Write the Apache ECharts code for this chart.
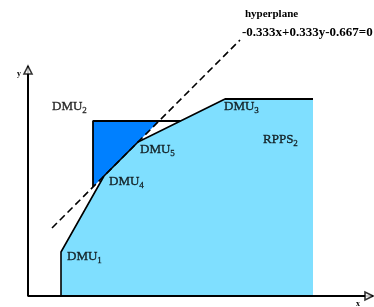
<!DOCTYPE html>
<html><head><meta charset="utf-8">
<script src="https://cdn.jsdelivr.net/npm/echarts@6/dist/echarts.min.js"></script>
<style>html,body{margin:0;padding:0;background:#fff}#c{width:374px;height:307px}</style>
</head><body><div id="c"></div>
<script>
// Data (arbitrary units)
var frontierX = [3.3, 3.3, 7.6, 11.0, 19.7, 28.5, 28.5];
var frontierY = [0, 4.4, 12.0, 15.4, 19.7, 19.7, 0];
var dmuNames = ['DMU', 'DMU', 'DMU', 'DMU', 'DMU'];
var dmuSubs = ['1', '2', '3', '4', '5'];
var dmuX = [3.3, 6.5, 19.7, 7.6, 11.0];
var dmuY = [4.4, 17.5, 19.7, 12.0, 15.4];
var boxX = [6.5, 6.5, 15.25];
var boxY = [10.9, 17.5, 17.5];
var darkX = [6.5, 13.1, 6.5];
var darkY = [17.5, 17.5, 10.9];
var hyperX = [2.4, 21.2];
var hyperY = [6.8, 25.6];
var axisPtsX = [0, 0, 34.5];
var axisPtsY = [23.0, 0, 0];
var regionLabel = ['RPPS', '2'];
var regionPos = [23.5, 15.6];
var hyperTitle = 'hyperplane';
var hyperEq = '-0.333x+0.333y-0.667=0';

function pairs(xs, ys) { return xs.map(function (x, i) { return [x, ys[i]]; }); }
function polygon(xs, ys, color) {
  return function (params, api) {
    var pts = xs.map(function (x, i) { return api.coord([x, ys[i]]); });
    return { type: 'polygon', shape: { points: pts }, style: { fill: color } };
  };
}
var serif = '"Liberation Serif", "DejaVu Serif", serif';
var rich = {
  b: { fontFamily: serif, fontSize: 13, color: '#000', textBorderColor: '#000', textBorderWidth: 0.35 },
  s: { fontFamily: serif, fontSize: 9, color: '#000', textBorderColor: '#000', textBorderWidth: 0.3, padding: [8, 0, 0, 0] }
};
var offsets = [[6, 5], [-41, -14], [-1, 8], [5, 6], [2, 8]];

var chart = echarts.init(document.getElementById('c'));
chart.setOption({
  animation: false,
  grid: { left: 28, right: 1, top: 0, bottom: 11 },
  xAxis: { type: 'value', min: 0, max: 34.5, show: false },
  yAxis: { type: 'value', min: 0, max: 29.6, show: false },
  series: [
    { type: 'custom', renderItem: polygon(frontierX, frontierY, '#7fdfff'), data: [0], silent: true, z: 1 },
    { type: 'custom', renderItem: polygon(darkX, darkY, '#0080ff'), data: [0], silent: true, z: 2 },
    { type: 'line', data: pairs(frontierX.slice(0, 6), frontierY.slice(0, 6)), symbol: 'none',
      lineStyle: { color: '#000', width: 1.6 }, z: 3 },
    { type: 'line', data: pairs(boxX, boxY), symbol: 'none', lineStyle: { color: '#000', width: 1.8 }, z: 3 },
    { type: 'line', data: [[19.7, 19.7], [28.5, 19.7]], symbol: 'none', lineStyle: { color: '#000', width: 2 }, z: 3 },
    { type: 'line', data: pairs(hyperX, hyperY), symbol: 'none',
      lineStyle: { color: '#000', width: 1.6, type: [7, 4] }, z: 4 },
    { type: 'line', data: pairs(axisPtsX, axisPtsY), symbol: 'none', lineStyle: { color: '#000', width: 2 }, z: 5 },
    { type: 'scatter', data: [[0, 22.6]], symbol: 'triangle', symbolSize: [8, 8],
      itemStyle: { color: '#fff', borderColor: '#000', borderWidth: 1.6 }, z: 6 },
    { type: 'scatter', data: [[34.1, 0]], symbol: 'triangle', symbolSize: [8, 8], symbolRotate: -90,
      itemStyle: { color: '#fff', borderColor: '#000', borderWidth: 1.6 }, z: 6 },
    { type: 'scatter', symbolSize: 0, z: 7,
      data: dmuX.map(function (x, i) {
        return { value: [x, dmuY[i]], label: { show: true, position: 'inside', align: 'left',
          offset: offsets[i], formatter: '{b|' + dmuNames[i] + '}{s|' + dmuSubs[i] + '}', rich: rich } };
      }) },
    { type: 'scatter', symbolSize: 0, z: 7,
      data: [{ value: regionPos, label: { show: true, position: 'inside', align: 'left',
        formatter: '{b|' + regionLabel[0] + '}{s|' + regionLabel[1] + '}', rich: rich } }] }
  ],
  graphic: [
    { type: 'text', left: 245, top: 9, style: { text: hyperTitle, font: 'bold 11px ' + serif, fill: '#000' } },
    { type: 'text', left: 242, top: 26, style: { text: hyperEq, font: 'bold 13px ' + serif, fill: '#000' } },
    { type: 'text', left: 17, top: 70, style: { text: 'y', font: 'bold 8px ' + serif, fill: '#000' } },
    { type: 'text', left: 356, top: 300, style: { text: 'x', font: 'bold 8px ' + serif, fill: '#000' } }
  ]
});
</script></body></html>
